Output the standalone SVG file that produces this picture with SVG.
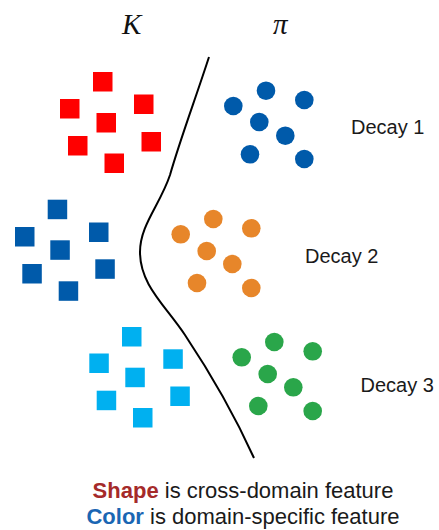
<svg xmlns="http://www.w3.org/2000/svg" width="439" height="530" viewBox="0 0 439 530">
<style>
.lbl{font-family:"Liberation Sans",Arial,sans-serif;font-size:20px;fill:#1a1a1a}
.sym{font-family:"Liberation Serif","Times New Roman",serif;font-style:italic;font-size:29px;fill:#111}
.cap{font-family:"Liberation Sans",Arial,sans-serif;font-size:22px;fill:#1a1a1a;text-anchor:middle}
.red{fill:#ff0000}.dblue{fill:#005aaa}.lblue{fill:#00b0f0}
.blue{fill:#005aaa}.orange{fill:#e7862a}.green{fill:#2aa64a}
</style>
<rect width="439" height="530" fill="#fff"/>
<g id="label-K"><text class="sym" x="122" y="34">K</text></g>
<g id="label-pi"><text class="sym" x="273" y="34">π</text></g>
<g id="connectors">
<path d="M209,57 C195,100 180,140 170,175 C160,205 140,225 140,252 C140,285 165,305 185,335 C205,365 230,405 254,458" fill="none" stroke="#000" stroke-width="2"/>
</g>
<g id="red-squares" class="red">
<rect x="93" y="72" width="19.5" height="19.5"/>
<rect x="60" y="99" width="19.5" height="19.5"/>
<rect x="134" y="94.5" width="19.5" height="19.5"/>
<rect x="96.5" y="113" width="19.5" height="19.5"/>
<rect x="68" y="136" width="19.5" height="19.5"/>
<rect x="141.5" y="132" width="19.5" height="19.5"/>
<rect x="104.5" y="153.5" width="19.5" height="19.5"/>
</g>
<g id="blue-squares" class="dblue">
<rect x="47.7" y="199.7" width="19.5" height="19.5"/>
<rect x="15" y="227" width="19.5" height="19.5"/>
<rect x="89" y="222.5" width="19.5" height="19.5"/>
<rect x="50.3" y="240.3" width="19.5" height="19.5"/>
<rect x="22.3" y="264" width="19.5" height="19.5"/>
<rect x="95.3" y="259.3" width="19.5" height="19.5"/>
<rect x="58.7" y="281.3" width="19.5" height="19.5"/>
</g>
<g id="lightblue-squares" class="lblue">
<rect x="122" y="327" width="19.5" height="19.5"/>
<rect x="89.3" y="353.5" width="19.5" height="19.5"/>
<rect x="163.3" y="349.3" width="19.5" height="19.5"/>
<rect x="125.3" y="367.7" width="19.5" height="19.5"/>
<rect x="96.7" y="390.7" width="19.5" height="19.5"/>
<rect x="170.3" y="386.5" width="19.5" height="19.5"/>
<rect x="133" y="408" width="19.5" height="19.5"/>
</g>
<g id="decay1">
<g class="blue">
<circle cx="233.3" cy="106" r="9.3"/>
<circle cx="266" cy="90.7" r="9.3"/>
<circle cx="304.3" cy="100" r="9.3"/>
<circle cx="259.3" cy="122" r="9.3"/>
<circle cx="285.3" cy="135.7" r="9.3"/>
<circle cx="250" cy="154.3" r="9.3"/>
<circle cx="304.3" cy="159" r="9.3"/>
</g>
<text class="lbl" x="351" y="134">Decay 1</text>
</g>
<g id="decay2">
<g class="orange">
<circle cx="180.7" cy="234.3" r="9.3"/>
<circle cx="213.3" cy="219" r="9.3"/>
<circle cx="251.3" cy="228.3" r="9.3"/>
<circle cx="206.7" cy="251" r="9.3"/>
<circle cx="232.3" cy="264" r="9.3"/>
<circle cx="197" cy="283" r="9.3"/>
<circle cx="251.3" cy="288" r="9.3"/>
</g>
<text class="lbl" x="305" y="263">Decay 2</text>
</g>
<g id="decay3">
<g class="green">
<circle cx="241.7" cy="357.3" r="9.3"/>
<circle cx="274.3" cy="342" r="9.3"/>
<circle cx="312.7" cy="351.3" r="9.3"/>
<circle cx="267.7" cy="374" r="9.3"/>
<circle cx="293.3" cy="387.3" r="9.3"/>
<circle cx="258.3" cy="406" r="9.3"/>
<circle cx="312.7" cy="411" r="9.3"/>
</g>
<text class="lbl" x="360.5" y="392">Decay 3</text>
</g>
<g id="caption">
<text class="cap" x="243" y="498"><tspan font-weight="bold" fill="#a52a2a">Shape</tspan> is cross-domain feature</text>
<text class="cap" x="243" y="524"><tspan font-weight="bold" fill="#1a66b3">Color</tspan> is domain-specific feature</text>
</g>
</svg>
